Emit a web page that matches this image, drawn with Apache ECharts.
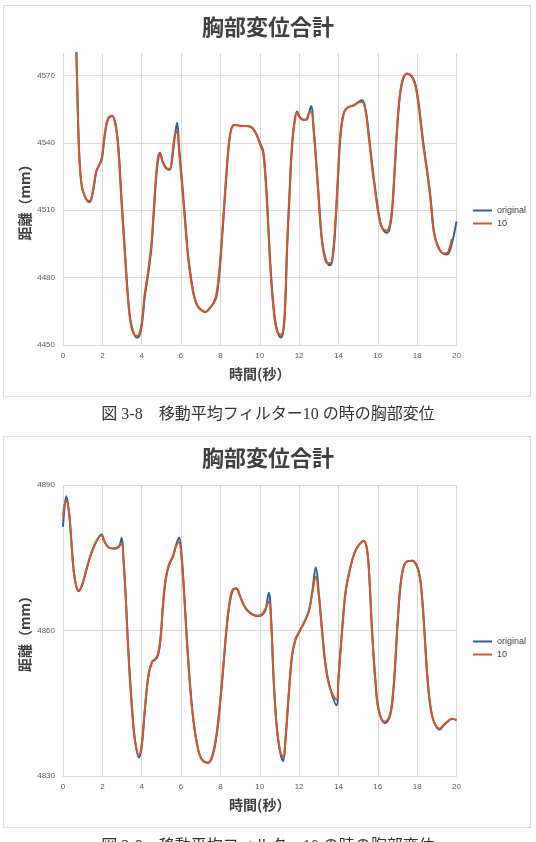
<!DOCTYPE html>
<html>
<head>
<meta charset="utf-8">
<script src="https://cdn.jsdelivr.net/npm/echarts@6/dist/echarts.min.js"></script>
<style>
  html, body { margin: 0; padding: 0; background: #fff; }
  #main { width: 536px; height: 842px; }
</style>
</head>
<body>
<div id="main"></div>
<script>
// 上段：時間(秒)と距離(mm)
const time1 = [0.55, 0.68, 0.72, 0.76, 0.81, 0.88, 0.97, 1.1, 1.25, 1.36, 1.53, 1.69, 1.83, 1.93, 2.0, 2.12, 2.29, 2.5, 2.63, 2.75,
  2.85, 2.97, 3.14, 3.31, 3.44, 3.59, 3.76, 3.9, 4.03, 4.15, 4.32, 4.49, 4.61, 4.75, 4.88, 4.93, 5.08, 5.29, 5.42, 5.56,
  5.68, 5.8, 5.9, 6.02, 6.19, 6.36, 6.53, 6.69, 6.86, 7.12, 7.25, 7.46, 7.66, 7.8, 7.93, 8.05, 8.17, 8.31, 8.44, 8.56,
  8.73, 8.98, 9.32, 9.58, 9.78, 9.86, 10.03, 10.17, 10.29, 10.41, 10.54, 10.71, 10.88, 11.08, 11.22, 11.31, 11.39, 11.51, 11.64, 11.78,
  11.9, 12.03, 12.2, 12.37, 12.49, 12.61, 12.75, 12.88, 13.0, 13.12, 13.25, 13.42, 13.59, 13.73, 13.85, 13.97, 14.1, 14.27, 14.47, 14.78,
  15.03, 15.2, 15.37, 15.54, 15.71, 15.88, 16.05, 16.22, 16.47, 16.61, 16.73, 16.85, 16.98, 17.12, 17.29, 17.49, 17.75, 17.92, 18.08, 18.2,
  18.34, 18.51, 18.68, 18.85, 19.02, 19.27, 19.49, 19.62, 19.76, 19.88, 20.0];
const orig1 = [4610, 4580, 4566, 4552, 4538, 4527, 4520, 4516.5, 4514, 4513.7, 4518.5, 4527, 4530, 4531.5, 4534, 4543, 4550.5, 4552, 4550, 4544,
  4534, 4516, 4493, 4471, 4460.5, 4455.3, 4453.3, 4454.5, 4460.5, 4471, 4481, 4493, 4508, 4526, 4535, 4535.5, 4531.3, 4528.4, 4528, 4533.6,
  4542.5, 4549, 4538, 4526, 4508, 4490, 4478.5, 4471, 4467.2, 4465, 4464.6, 4466.4, 4468.7, 4471.6, 4480, 4493.3, 4508, 4526, 4539.6, 4546.3,
  4548.1, 4547.6, 4547.5, 4547, 4544.8, 4543.3, 4539.6, 4536.6, 4526, 4508, 4486, 4466.4, 4456.7, 4453.3, 4457.5, 4471, 4493, 4515.7, 4538, 4550,
  4554, 4551.5, 4550.3, 4550.3, 4553, 4556.3, 4545.5, 4530.6, 4515.7, 4500.7, 4491.8, 4486.6, 4485.5, 4490.3, 4503.7, 4523, 4542.5, 4553, 4555.7, 4556.7,
  4558.2, 4559, 4555.2, 4544, 4530.6, 4518.7, 4508.2, 4502.2, 4500, 4502.2, 4509.7, 4526, 4545.5, 4560.4, 4568.5, 4570.9, 4569.4, 4565.7, 4557.5, 4548.5,
  4538.2, 4527.6, 4515.7, 4500.7, 4494.8, 4491, 4490.3, 4491.2, 4495, 4499.5, 4505];
const ma1 = [4610, 4580, 4565, 4551, 4537, 4526.5, 4520, 4516.5, 4514.3, 4514.2, 4519.5, 4527.5, 4530, 4532, 4535, 4544, 4551, 4552, 4549.5, 4543,
  4532, 4514, 4491, 4469.5, 4459.5, 4455, 4454, 4455.5, 4462, 4472.5, 4482.5, 4495, 4510, 4527.5, 4535.3, 4535.2, 4531, 4528.5, 4528.5, 4535,
  4543.5, 4545, 4536, 4524, 4506, 4488.5, 4477.5, 4470.5, 4467, 4465, 4464.8, 4466.5, 4469, 4473, 4482, 4495, 4510, 4527.5, 4540.5, 4546.5,
  4548, 4547.6, 4547.5, 4546.8, 4544.5, 4543, 4539, 4535.5, 4524, 4506, 4484, 4465, 4456, 4454.5, 4459, 4473, 4495, 4517.5, 4539.5, 4550.5,
  4553.5, 4551.2, 4550.3, 4550.5, 4553, 4553.7, 4544, 4529, 4514, 4499.5, 4491, 4486.5, 4486.5, 4492, 4506, 4525, 4544, 4553.5, 4555.8, 4556.8,
  4558, 4558.2, 4554.5, 4542.5, 4529, 4517.5, 4507.5, 4502, 4501, 4503.5, 4511.5, 4528, 4547, 4561.5, 4569, 4570.8, 4569, 4565, 4556, 4547,
  4537, 4526.5, 4514.5, 4500, 4494.5, 4491, 4490.8, 4492.5, 4497.2, null, null];

// 下段
const time2 = [0.0, 0.08, 0.17, 0.31, 0.42, 0.54, 0.68, 0.8, 0.98, 1.19, 1.44, 1.69, 1.95, 2.12, 2.34, 2.63, 2.85, 2.98, 3.08, 3.19,
  3.27, 3.39, 3.53, 3.66, 3.86, 4.0, 4.12, 4.24, 4.37, 4.54, 4.66, 4.83, 4.97, 5.08, 5.22, 5.39, 5.59, 5.73, 5.9, 6.02,
  6.14, 6.27, 6.44, 6.61, 6.81, 7.03, 7.37, 7.59, 7.8, 7.97, 8.14, 8.31, 8.47, 8.64, 8.81, 8.98, 9.24, 9.49, 9.75, 9.95,
  10.12, 10.29, 10.46, 10.58, 10.71, 10.88, 11.05, 11.19, 11.31, 11.47, 11.64, 11.81, 11.97, 12.24, 12.49, 12.66, 12.85, 13.0, 13.17, 13.34,
  13.56, 13.9, 14.0, 14.19, 14.36, 14.58, 14.81, 15.03, 15.29, 15.46, 15.58, 15.71, 15.88, 16.05, 16.36, 16.61, 16.78, 16.9, 17.02, 17.15,
  17.32, 17.53, 17.75, 17.97, 18.14, 18.25, 18.37, 18.51, 18.68, 18.88, 19.15, 19.36, 19.55, 19.77, 20.0];
const orig2 = [4881.4, 4885.5, 4887.7, 4884.2, 4878.7, 4872.5, 4869, 4868.1, 4869.4, 4872.5, 4875.9, 4878.3, 4879.8, 4878.3, 4877.1, 4876.9, 4877.3, 4879.1, 4874.5, 4867,
  4860.1, 4851.2, 4842.9, 4837.4, 4833.8, 4836, 4841.5, 4847, 4851.2, 4853.6, 4853.9, 4854.9, 4858.7, 4864.9, 4870.4, 4873.5, 4875.2, 4877.3, 4879.2, 4875.9,
  4869, 4860.1, 4849.8, 4842.2, 4836.7, 4833.6, 4832.7, 4834, 4838.1, 4844.3, 4851.9, 4860.1, 4865.6, 4868.4, 4868.7, 4867.3, 4864.9, 4863.7, 4863.1, 4863,
  4863.2, 4864.2, 4867.8, 4862.2, 4849.8, 4839.5, 4834.7, 4833.1, 4837.4, 4846.4, 4854.6, 4858, 4859.4, 4861.5, 4863.9, 4867.7, 4873, 4867.7, 4860.1, 4853.2,
  4848.4, 4844.6, 4849.8, 4860.1, 4867.7, 4872.5, 4875.9, 4877.6, 4878.5, 4876.6, 4870.4, 4860.1, 4849.8, 4843.6, 4840.9, 4842.2, 4847, 4853.9, 4862.2, 4869,
  4873.2, 4874.3, 4874.4, 4873.5, 4871.1, 4867, 4860.1, 4851.2, 4844.3, 4840.9, 4839.6, 4840.5, 4841.2, 4841.8, 4841.5];
const ma2 = [4883.5, 4886, 4886.6, 4884.3, 4878.5, 4872.3, 4869, 4868.3, 4869.6, 4872.7, 4876, 4878.4, 4879.6, 4878.2, 4877.1, 4876.9, 4877.4, 4878, 4874, 4866.5,
  4859.5, 4850.5, 4842.5, 4837.2, 4834.3, 4836.6, 4842, 4847.4, 4851.5, 4853.7, 4854, 4855.2, 4859.3, 4865.5, 4870.8, 4873.7, 4875.4, 4877.3, 4878.2, 4875,
  4868.5, 4859.5, 4849.3, 4842, 4836.6, 4833.6, 4832.8, 4834.3, 4838.6, 4844.8, 4852.4, 4860.5, 4865.9, 4868.5, 4868.6, 4867.2, 4864.8, 4863.6, 4863.1, 4863.1,
  4863.4, 4864.5, 4866, 4861.5, 4849.3, 4839.3, 4834.8, 4834, 4838, 4847, 4855, 4858.2, 4859.5, 4861.6, 4864, 4867.5, 4871.1, 4867.2, 4859.5, 4852.8,
  4848.2, 4845.7, 4850.5, 4860.6, 4868, 4872.7, 4876, 4877.6, 4878.4, 4876.3, 4870, 4859.5, 4849.3, 4843.4, 4841.2, 4842.6, 4847.5, 4854.5, 4862.7, 4869.3,
  4873.3, 4874.3, 4874.4, 4873.4, 4870.8, 4866.5, 4859.5, 4850.7, 4844, 4840.9, 4839.8, 4840.6, 4841.3, 4841.8, 4841.5];

const yMin1 = 4450, yMax1 = 4580;
const yMin2 = 4830, yMax2 = 4890;

const chart = echarts.init(document.getElementById('main'));

const gray = '#595959';
const gridColor = '#d9d9d9';
const blue = '#2f5f98';
const orange = '#cf5a2e';
const jp = '"Noto Sans CJK JP", sans-serif';

function toPairs(t, v) {
  return t.map((x, i) => [x, v[i]]);
}

function xAxisOf(idx) {
  return {
    type: 'value', gridIndex: idx, min: 0, max: 20, interval: 2,
    name: '時間(秒）', nameLocation: 'middle', nameGap: 22,
    nameTextStyle: { fontFamily: jp, fontSize: 14, fontWeight: 'bold', color: '#404040' },
    axisLine: { show: true, lineStyle: { color: gridColor } },
    axisTick: { show: false },
    axisLabel: { fontSize: 8, color: gray, margin: 7, fontFamily: 'Liberation Sans' },
    splitLine: { show: true, lineStyle: { color: gridColor, width: 1 } }
  };
}

function yAxisOf(idx, min, max) {
  const fits = (max - min) % 30 === 0;
  return {
    type: 'value', gridIndex: idx, min: min, max: max, interval: 30,
    name: '距離（mm）', nameLocation: 'middle', nameGap: 31, nameRotate: 90, nameMoveOverlap: false,
    nameTextStyle: { fontFamily: jp, fontSize: 14, fontWeight: 'bold', color: '#404040' },
    axisLine: { show: false },
    axisTick: { show: false },
    axisLabel: { fontSize: 8, color: gray, margin: 8, fontFamily: 'Liberation Sans', showMaxLabel: fits,
      formatter: v => String(v) },
    splitLine: { show: true, showMaxLine: fits, lineStyle: { color: gridColor, width: 1 } }
  };
}

function lineOf(name, color, idx, data) {
  return {
    name: name, type: 'line', xAxisIndex: idx, yAxisIndex: idx,
    data: data, showSymbol: false, smooth: 0.4, clip: true,
    lineStyle: { color: color, width: 2 }, itemStyle: { color: color },
    emphasis: { disabled: true }
  };
}

function legendOf(top) {
  return {
    orient: 'vertical', left: 473, top: top, padding: 0, itemGap: 4,
    icon: 'rect', itemWidth: 19, itemHeight: 2,
    data: ['original', '10'],
    textStyle: { fontSize: 9, color: '#404040', fontFamily: 'Liberation Sans' }
  };
}

chart.setOption({
  animation: false,
  title: [
    { text: '胸部変位合計', left: 'center', top: 11, textStyle: { fontFamily: jp, fontSize: 22, fontWeight: 'bold', color: '#404040' } },
    { text: '胸部変位合計', left: 'center', top: 442, textStyle: { fontFamily: jp, fontSize: 22, fontWeight: 'bold', color: '#404040' } }
  ],
  legend: [legendOf(206), legendOf(637)],
  grid: [
    { left: 63, width: 393.5, top: 53, height: 292 },
    { left: 63, width: 393.5, top: 485, height: 291 }
  ],
  xAxis: [xAxisOf(0), xAxisOf(1)],
  yAxis: [yAxisOf(0, yMin1, yMax1), yAxisOf(1, yMin2, yMax2)],
  series: [
    lineOf('original', blue, 0, toPairs(time1, orig1)),
    lineOf('10', orange, 0, toPairs(time1, ma1)),
    lineOf('original', blue, 1, toPairs(time2, orig2)),
    lineOf('10', orange, 1, toPairs(time2, ma2))
  ],
  graphic: [
    { type: 'rect', shape: { x: 3.5, y: 5.5, width: 527, height: 391 }, style: { fill: 'none', stroke: gridColor, lineWidth: 1 }, silent: true },
    { type: 'rect', shape: { x: 3.5, y: 436.5, width: 527, height: 391 }, style: { fill: 'none', stroke: gridColor, lineWidth: 1 }, silent: true },
    { type: 'text', x: 268, y: 415, style: { text: '図 3-8　移動平均フィルター10 の時の胸部変位', align: 'center', verticalAlign: 'middle',
      font: '16px "Liberation Serif", "Noto Sans CJK JP"', fill: '#333' }, silent: true },
    { type: 'text', x: 268, y: 847, style: { text: '図 3-9　移動平均フィルター10 の時の胸部変位', align: 'center', verticalAlign: 'middle',
      font: '16px "Liberation Serif", "Noto Sans CJK JP"', fill: '#333' }, silent: true }
  ]
});
</script>
</body>
</html>
